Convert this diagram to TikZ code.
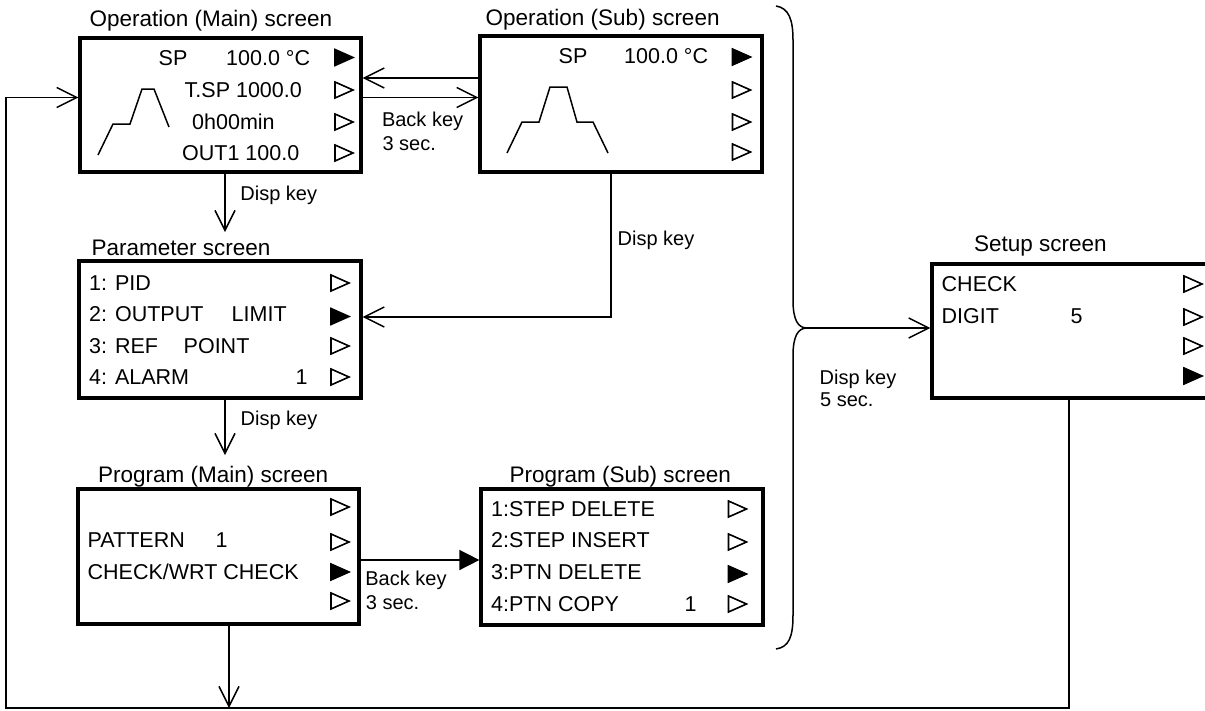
\documentclass[tikz,border=0pt]{standalone}
\usepackage{fontspec}
\setmainfont{Liberation Sans}
\usetikzlibrary{arrows.meta}
\tikzset{
  otri/.pic={\draw[line width=1.6pt,line join=miter] (-9,-8) -- (9,0) -- (-9,8) -- cycle;},
  ftri/.pic={\filldraw[line width=1.6pt,line join=miter] (-9,-8) -- (9,0) -- (-9,8) -- cycle;}
}
\begin{document}
\begin{tikzpicture}[x=1pt,y=-1pt,
  box/.style={draw,line width=3.2pt,rectangle,inner sep=0pt},
  ttl/.style={anchor=base west,inner sep=0pt,font=\fontsize{22.5}{26}\selectfont},
  txt/.style={anchor=base west,inner sep=0pt,font=\fontsize{21.5}{25}\selectfont},
  lbl/.style={anchor=base west,inner sep=0pt,font=\fontsize{20}{23}\selectfont},
  conn/.style={line width=1.5pt},
  barb/.style={-{Straight Barb[length=20pt,width=20pt,line width=1.5pt]}},
  curve/.style={line width=1.5pt,line join=miter}
]
\useasboundingbox (0,0) rectangle (1205,710);
\clip (0,0) rectangle (1205,710);

% ---------- boxes ----------
\node[box,minimum width=281pt,minimum height=134pt] (opmain) at (220.5,105) {};
\node[box,minimum width=282pt,minimum height=136pt] (opsub) at (621,104) {};
\node[box,minimum width=282pt,minimum height=137pt] (param) at (220,329.5) {};
\node[box,minimum width=281pt,minimum height=135pt] (progmain) at (218.5,556.5) {};
\node[box,minimum width=282pt,minimum height=136pt] (progsub) at (622,557) {};
\node[box,minimum width=283pt,minimum height=134pt] (setup) at (1073.5,331) {};

% ---------- titles ----------
\node[ttl] (ttlopmain) at (89.5,26.7) {Operation (Main) screen};
\node[ttl] (ttlopsub) at (485.5,25) {Operation (Sub) screen};
\node[ttl] (ttlparam) at (91.5,255) {Parameter screen};
\node[ttl] (ttlprogmain) at (98,482.7) {Program (Main) screen};
\node[ttl] (ttlprogsub) at (509.5,482.7) {Program (Sub) screen};
\node[ttl] (ttlsetup) at (974,251) {Setup screen};

% ---------- Operation (Main) ----------
\node[txt] (om1a) at (158.5,65) {SP};
\node[txt] (om1b) at (226,65) {100.0 °C};
\node[txt] (om2) at (184.5,97) {T.SP 1000.0};
\node[txt] (om3) at (192,129) {0h00min};
\node[txt] (om4) at (182,160) {OUT1 100.0};
\pic at (344,57.5) {ftri};
\pic at (344,90) {otri};
\pic at (344,122) {otri};
\pic at (344,153) {otri};
\draw[curve] (98,155) -- (113,124) -- (130,124) -- (142,89) -- (154,89) -- (169,127);

% ---------- Operation (Sub) ----------
\node[txt] (os1a) at (558.5,63.5) {SP};
\node[txt] (os1b) at (624,63.5) {100.0 °C};
\pic at (741.5,57) {ftri};
\pic at (741.5,90) {otri};
\pic at (741.5,122) {otri};
\pic at (741.5,152) {otri};
\draw[curve] (507,153) -- (522,122) -- (539,122) -- (550,87) -- (567,87) -- (577,122) -- (593,122) -- (608,153);

% ---------- Parameter ----------
\node[txt] (pa1) at (89,290) {1: PID};
\node[txt] (pa2a) at (89,321.7) {2: OUTPUT};
\node[txt] (pa2b) at (231.5,321.7) {LIMIT};
\node[txt] (pa3a) at (89,353) {3: REF};
\node[txt] (pa3b) at (183.5,353) {POINT};
\node[txt] (pa4a) at (89,384) {4: ALARM};
\node[txt] (pa4b) at (295.5,384) {1};
\pic at (340,283) {otri};
\pic at (340,316.5) {ftri};
\pic at (340,346) {otri};
\pic at (340,377) {otri};

% ---------- Program (Main) ----------
\node[txt] (pm2a) at (87.5,547.7) {PATTERN};
\node[txt] (pm2b) at (215.5,547.7) {1};
\node[txt] (pm3) at (87.5,579) {CHECK/WRT CHECK};
\pic at (340,507) {otri};
\pic at (340,542) {otri};
\pic at (340,572) {ftri};
\pic at (340,601) {otri};

% ---------- Program (Sub) ----------
\node[txt] (ps1) at (491,516) {1:STEP DELETE};
\node[txt] (ps2) at (491,547.7) {2:STEP INSERT};
\node[txt] (ps3) at (491,579) {3:PTN DELETE};
\node[txt] (ps4a) at (491,611) {4:PTN COPY};
\node[txt] (ps4b) at (684.5,611) {1};
\pic at (737.5,509) {otri};
\pic at (737.5,542) {otri};
\pic at (737.5,574) {ftri};
\pic at (737.5,604) {otri};

% ---------- Setup ----------
\node[txt] (se1) at (941.5,291.7) {CHECK};
\node[txt] (se2a) at (941.5,323) {DIGIT};
\node[txt] (se2b) at (1070.5,323) {5};
\pic at (1193,284) {otri};
\pic at (1193,317) {otri};
\pic at (1193,346) {otri};
\pic at (1193,376) {ftri};

% ---------- brace ----------
\coordinate (btip) at (807,328);
\draw[line width=1.5pt] (776,6) .. controls (789,8) and (793,20) .. (793,40) -- (793,300)
  .. controls (793,320) and (798,328) .. (btip)
  .. controls (798,328) and (793,336) .. (793,356) -- (793,615)
  .. controls (793,637) and (789,647) .. (776,649);

% ---------- helper coordinates ----------
\coordinate (c225) at (225,0);
\coordinate (c229) at (229,0);
\coordinate (c611) at (611,0);
\coordinate (c1069) at (1069,0);
\coordinate (cL) at (6,0);
\coordinate (r78) at (0,78);
\coordinate (r98) at (0,97.5);
\coordinate (r232) at (0,232);
\coordinate (r317) at (0,317);
\coordinate (r455) at (0,455);
\coordinate (r560) at (0,560);
\coordinate (r708) at (0,708);

% ---------- connectors ----------
\draw[conn,barb] (opmain.south -| c225) -- (c225 |- r232);
\draw[conn,barb] (param.south -| c225) -- (c225 |- r455);
\draw[conn,barb] (progmain.south -| c229) -- (c229 |- r708);
\draw[conn,barb] (setup.south -| c1069) -- (c1069 |- r708) -- (cL |- r708) -- (cL |- r98) -- (opmain.west |- r98);
\draw[conn,barb] (opsub.west |- r78) -- (opmain.east |- r78);
\draw[conn,barb] (opmain.east |- r98) -- (opsub.west |- r98);
\draw[conn,barb] (opsub.south -| c611) -- (c611 |- r317) -- (param.east |- r317);
\draw[conn,-{Triangle[length=20pt,width=20pt]}] (progmain.east |- r560) -- (progsub.west |- r560);
\draw[conn,barb] (btip) -- (setup.west |- btip);

% ---------- labels ----------
\node[lbl] (bk1) at (381.8,126.7) {Back key};
\node[lbl] (bk1s) at (382.3,150.5) {3 sec.};
\node[lbl] (dk1) at (240.2,200) {Disp key};
\node[lbl] (dk2) at (240.5,425) {Disp key};
\node[lbl] (dk3) at (617.5,245) {Disp key};
\node[lbl] (dk4) at (819.5,384) {Disp key};
\node[lbl] (dk4s) at (820,406.7) {5 sec.};
\node[lbl] (bk2) at (365.2,585) {Back key};
\node[lbl] (bk2s) at (365.7,609.3) {3 sec.};
\end{tikzpicture}
\end{document}
